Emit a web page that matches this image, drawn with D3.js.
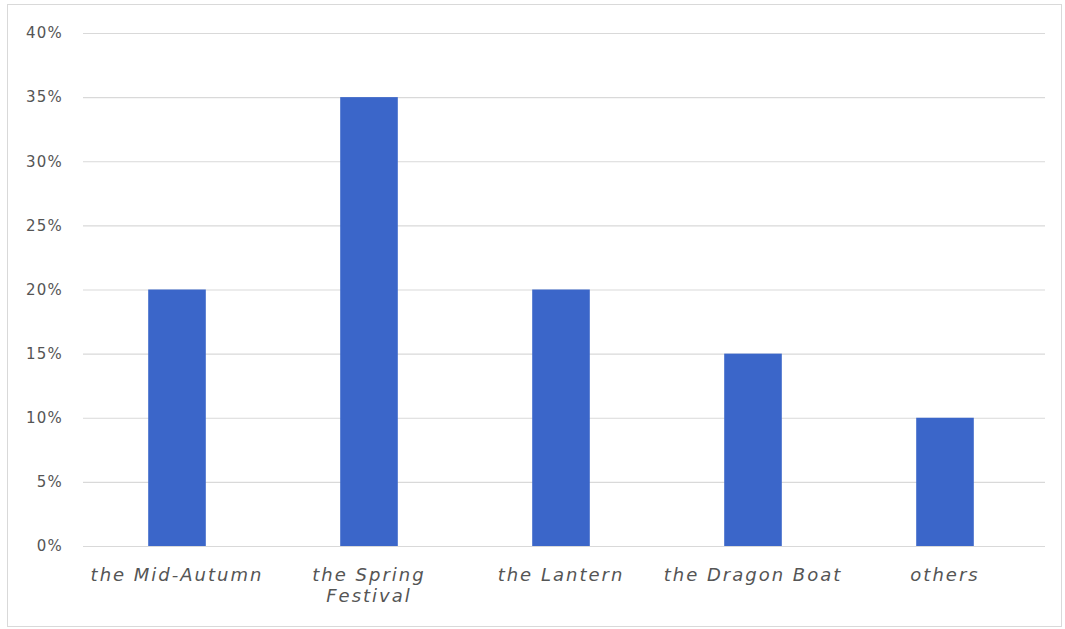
<!DOCTYPE html>
<html>
<head>
<script src="https://d3js.org/d3.v7.min.js"></script>
<style>
  body { margin: 0; background: #fff; font-family: "DejaVu Sans", Verdana, sans-serif; }
</style>
</head>
<body>
<script>
// festival shares (%)
var categories = ["the Mid-Autumn", "the Spring Festival", "the Lantern", "the Dragon Boat", "others"];
var values = [20, 35, 20, 15, 10];
var yTicks = [0, 5, 10, 15, 20, 25, 30, 35, 40];

var width = 1065, height = 629;
var margin = {top: 33, right: 20, bottom: 83, left: 83};

var svg = d3.select("body").append("svg")
  .attr("width", width)
  .attr("height", height);

// outer frame
svg.append("rect")
  .attr("x", 7.5).attr("y", 4.5)
  .attr("width", 1054).attr("height", 622)
  .attr("fill", "#fff")
  .attr("stroke", "#d9d9d9");

var x = d3.scaleBand()
  .domain(categories)
  .range([81, 1041])
  .paddingInner(0.7)
  .paddingOuter(0.35);

var y = d3.scaleLinear()
  .domain([0, 40])
  .range([height - margin.bottom, margin.top]);

// gridlines + y labels
var yAxis = d3.axisLeft(y)
  .tickValues(yTicks)
  .tickSize(-(1045 - margin.left))
  .tickPadding(20)
  .tickFormat(function(d){ return d + "%"; });

var gy = svg.append("g")
  .attr("transform", "translate(" + margin.left + ",0)")
  .call(yAxis);
gy.select(".domain").remove();
gy.selectAll(".tick line").attr("stroke", "#d9d9d9").attr("stroke-width", 1.2);
gy.selectAll(".tick text")
  .attr("fill", "#555")
  .attr("font-family", "DejaVu Sans, sans-serif")
  .attr("font-size", 15)
  .attr("letter-spacing", 1.2);

// bars
svg.append("g").selectAll("rect")
  .data(values)
  .enter()
  .append("rect")
  .attr("x", function(d, i){ return x(categories[i]); })
  .attr("width", x.bandwidth())
  .attr("y", function(d){ return y(d); })
  .attr("height", function(d){ return y(0) - y(d); })
  .attr("fill", "#3b66c9");

// category labels (wrap "the Spring Festival")
var labels = svg.append("g").selectAll("text")
  .data(categories)
  .enter()
  .append("text")
  .attr("text-anchor", "middle")
  .attr("font-size", 18)
  .attr("font-style", "italic")
  .attr("letter-spacing", 2)
  .attr("fill", "#555");

labels.each(function(d){
  var t = d3.select(this);
  var cx = x(d) + x.bandwidth() / 2;
  var lines = d === "the Spring Festival" ? ["the Spring", "Festival"] : [d];
  lines.forEach(function(l, j){
    t.append("tspan").attr("x", cx).attr("y", 581 + j * 21).text(l);
  });
});
</script>
</body>
</html>
